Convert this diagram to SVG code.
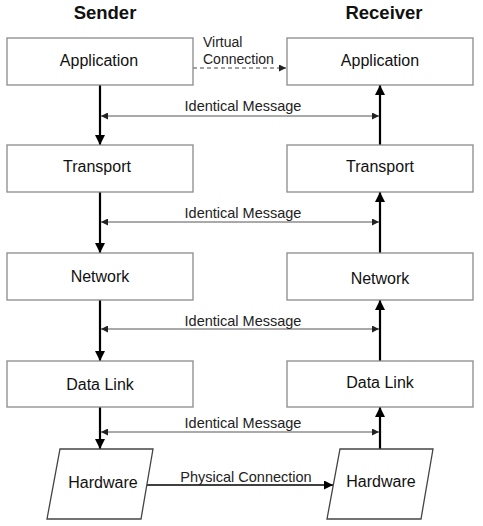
<svg xmlns="http://www.w3.org/2000/svg" width="483" height="526" viewBox="0 0 483 526">
<defs>
<style>
.box{fill:#fff;stroke:#8a8a8a;stroke-width:1.3}
.lbl{font-family:"Liberation Sans",Arial,sans-serif;font-size:16px;fill:#111;text-anchor:middle}
.hdr{font-family:"Liberation Sans",Arial,sans-serif;font-size:18.5px;font-weight:bold;fill:#111;text-anchor:middle}
.sm{font-family:"Liberation Sans",Arial,sans-serif;font-size:14.5px;fill:#222}
.vc{font-family:"Liberation Sans",Arial,sans-serif;font-size:14px;fill:#222}
.v{stroke:#000;stroke-width:2.2;fill:none}
.h{stroke:#555;stroke-width:1;fill:none}
</style>
<marker id="big" viewBox="0 0 10 10" refX="10" refY="5" markerWidth="10" markerHeight="14" markerUnits="userSpaceOnUse" orient="auto"><path d="M0,0 L10,5 L0,10 z" fill="#000"/></marker>
<marker id="sml" viewBox="0 0 10 10" refX="10" refY="5" markerWidth="8" markerHeight="7" markerUnits="userSpaceOnUse" orient="auto-start-reverse"><path d="M0,0 L10,5 L0,10 z" fill="#222"/></marker>
<marker id="med" viewBox="0 0 10 10" refX="10" refY="5" markerWidth="11" markerHeight="9" markerUnits="userSpaceOnUse" orient="auto"><path d="M0,0 L10,5 L0,10 z" fill="#000"/></marker>
</defs>
<rect width="483" height="526" fill="#fff"/>
<text class="hdr" x="105" y="19">Sender</text>
<text class="hdr" x="384" y="19">Receiver</text>
<g id="connectors">
<line class="v" x1="100" y1="85" x2="100" y2="145" marker-end="url(#big)"/>
<line class="v" x1="100" y1="192" x2="100" y2="253" marker-end="url(#big)"/>
<line class="v" x1="100" y1="300" x2="100" y2="361" marker-end="url(#big)"/>
<line class="v" x1="100" y1="407" x2="100" y2="449" marker-end="url(#big)"/>
<line class="v" x1="380" y1="449" x2="380" y2="407" marker-end="url(#big)"/>
<line class="v" x1="380" y1="361" x2="380" y2="300" marker-end="url(#big)"/>
<line class="v" x1="380" y1="253" x2="380" y2="192" marker-end="url(#big)"/>
<line class="v" x1="380" y1="145" x2="380" y2="85" marker-end="url(#big)"/>
<line class="h" x1="101" y1="116" x2="379" y2="116" marker-start="url(#sml)" marker-end="url(#sml)"/>
<line class="h" x1="101" y1="222" x2="379" y2="222" marker-start="url(#sml)" marker-end="url(#sml)"/>
<line class="h" x1="101" y1="329" x2="379" y2="329" marker-start="url(#sml)" marker-end="url(#sml)"/>
<line class="h" x1="101" y1="432" x2="379" y2="432" marker-start="url(#sml)" marker-end="url(#sml)"/>
<text class="sm" x="243" y="111" text-anchor="middle">Identical Message</text>
<text class="sm" x="243" y="218" text-anchor="middle">Identical Message</text>
<text class="sm" x="243" y="326" text-anchor="middle">Identical Message</text>
<text class="sm" x="243" y="428" text-anchor="middle">Identical Message</text>
<line x1="193" y1="68" x2="286" y2="68" stroke="#444" stroke-width="1" stroke-dasharray="4,3" marker-end="url(#sml)"/>
<text class="vc" x="203" y="47">Virtual</text>
<text class="vc" x="203" y="63.5">Connection</text>
<line x1="147" y1="485" x2="333" y2="485" stroke="#000" stroke-width="1.6" marker-end="url(#med)"/>
<text class="sm" x="246" y="482" text-anchor="middle">Physical Connection</text>
</g>
<g id="s-app"><rect class="box" x="7" y="38" width="186" height="47"/><text class="lbl" x="99" y="66">Application</text></g>
<g id="r-app"><rect class="box" x="287" y="38" width="186" height="47"/><text class="lbl" x="380" y="66">Application</text></g>
<g id="s-trans"><rect class="box" x="7" y="145" width="186" height="47"/><text class="lbl" x="97" y="172">Transport</text></g>
<g id="r-trans"><rect class="box" x="287" y="145" width="186" height="47"/><text class="lbl" x="380" y="172">Transport</text></g>
<g id="s-net"><rect class="box" x="7" y="253" width="186" height="47"/><text class="lbl" x="100" y="282">Network</text></g>
<g id="r-net"><rect class="box" x="287" y="253" width="186" height="47"/><text class="lbl" x="380" y="284">Network</text></g>
<g id="s-dl"><rect class="box" x="7" y="361" width="186" height="46"/><text class="lbl" x="100" y="390">Data Link</text></g>
<g id="r-dl"><rect class="box" x="287" y="361" width="186" height="46"/><text class="lbl" x="380" y="388">Data Link</text></g>
<g id="s-hw"><polygon class="box" points="60,449 153,449 141,519 47,519" style="stroke:#444"/><text class="lbl" x="103" y="488">Hardware</text></g>
<g id="r-hw"><polygon class="box" points="340,449 433,449 421,519 327,519" style="stroke:#444"/><text class="lbl" x="381" y="487">Hardware</text></g>
</svg>
